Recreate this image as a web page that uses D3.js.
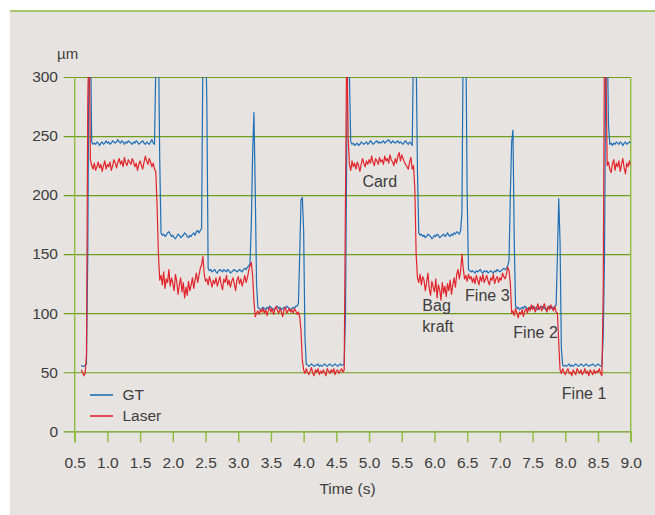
<!DOCTYPE html>
<html>
<head>
<meta charset="utf-8">
<script src="https://cdn.jsdelivr.net/npm/d3@7"></script>
<style>
  html, body { margin: 0; padding: 0; background: #ffffff; }
  svg { display: block; }
  text { font-family: "Liberation Sans", Arial, sans-serif; fill: #3d3d3d; }
</style>
</head>
<body>
<svg id="chart" width="655" height="515"></svg>
<script>
// ---- data (sampled every 0.02 s starting at 0.60 s) ----
const startTime = 0.60;
const sampleStep = 0.02;

const gtValues = [
  56,55,55,56,57,150,340,340,245,243,
  244,243,245,244,242,244,245,243,244,246,
  244,245,243,244,246,245,244,245,247,245,
  244,246,245,243,245,244,246,245,244,243,
  245,244,246,245,243,244,245,246,244,243,
  245,244,243,245,247,244,243,310,340,335,
  230,168,166,167,165,166,168,169,167,165,
  166,164,163,165,167,166,164,165,166,168,
  167,165,164,166,165,167,168,166,169,170,
  168,170,172,320,340,340,280,138,136,137,
  135,136,137,135,134,136,137,136,135,137,
  136,135,137,136,134,135,136,137,136,135,
  136,137,136,135,137,138,137,139,140,142,
  175,235,270,205,125,105,104,103,104,105,
  104,103,105,104,106,105,104,103,104,105,
  106,104,105,103,104,105,104,106,105,104,
  103,104,105,104,106,106,108,150,196,198,
  170,80,57,56,55,56,57,56,55,56,
  56,57,55,56,55,56,57,56,55,56,
  57,56,55,56,57,56,55,56,57,56,
  56,57,100,250,340,300,245,243,244,242,
  243,244,242,243,245,244,243,244,245,243,
  244,246,245,243,244,245,246,244,245,244,
  245,246,244,245,246,247,245,244,246,245,
  244,245,246,244,245,244,243,245,246,244,
  243,245,244,242,330,340,320,220,168,166,
  167,165,166,164,165,167,166,165,163,164,
  166,165,167,166,164,165,166,167,165,166,
  168,166,165,167,166,168,167,169,168,167,
  170,185,340,340,330,200,137,136,135,136,
  135,134,136,135,136,137,135,134,136,135,
  136,134,135,136,135,134,136,135,137,136,
  135,136,137,138,137,138,140,145,200,245,
  255,160,106,104,105,103,104,105,104,106,
  105,104,103,105,104,106,105,104,105,103,
  104,105,106,104,105,103,104,105,106,104,
  105,104,106,107,150,197,160,70,56,55,
  56,55,56,57,55,56,55,56,57,56,
  55,56,57,56,55,56,57,56,55,56,
  56,57,56,55,56,57,56,55,56,80,
  150,330,340,260,243,244,242,244,243,245,
  244,243,245,244,242,244,245,243,244,245,
  244
];

const laserValues = [
  52,50,47,49,65,280,340,230,225,222,
  227,221,224,228,223,226,220,225,229,222,
  226,224,228,221,225,230,227,223,228,231,
  226,229,224,232,227,225,230,228,226,231,
  228,224,227,221,226,229,225,222,228,233,
  229,226,231,228,224,227,222,220,190,150,
  128,132,124,135,121,129,126,137,123,130,
  125,119,133,127,116,124,130,118,126,113,
  122,115,127,119,124,130,121,128,134,126,
  132,138,141,148,133,127,129,124,131,127,
  122,128,125,130,123,127,131,124,120,129,
  126,132,124,128,122,127,130,125,119,128,
  131,125,129,123,127,132,126,130,136,140,
  143,132,110,97,100,102,99,103,101,104,
  100,103,98,102,105,101,104,99,103,106,
  102,100,104,101,97,103,105,100,102,104,
  101,103,100,104,102,99,101,97,85,60,
  52,49,53,50,48,51,54,49,47,52,
  50,53,48,51,49,52,50,47,53,51,
  49,52,50,53,48,51,52,49,51,53,
  50,52,200,340,250,226,221,229,224,227,
  222,228,225,220,226,231,227,224,229,226,
  230,227,233,228,225,231,229,226,232,228,
  230,226,233,229,231,227,234,230,228,225,
  231,227,233,236,229,234,231,228,226,224,
  222,228,232,222,225,205,150,130,126,133,
  124,131,128,119,126,134,121,115,127,122,
  118,129,113,124,120,111,126,117,123,114,
  125,119,128,116,124,130,122,133,137,129,
  136,150,138,129,132,127,133,129,131,126,
  130,125,132,128,124,131,127,133,126,129,
  132,127,124,130,128,133,125,129,131,126,
  130,128,134,131,129,133,139,136,125,100,
  102,98,104,100,96,101,99,103,97,102,
  104,100,105,102,107,103,106,101,104,108,
  103,106,102,105,108,104,101,106,103,107,
  104,102,106,101,100,75,52,49,53,50,
  48,51,53,49,50,47,52,50,48,53,
  51,49,52,48,50,53,49,51,47,52,
  50,48,52,49,51,50,53,49,47,120,
  340,320,225,228,222,219,226,230,221,227,
  224,229,220,226,231,223,218,227,224,229,
  225
];

const xTickValues = [0.5,1.0,1.5,2.0,2.5,3.0,3.5,4.0,4.5,5.0,5.5,6.0,6.5,7.0,7.5,8.0,8.5,9.0];
const yTickValues = [0,50,100,150,200,250,300];
const seriesNames = ["GT", "Laser"];
const annotationTexts = ["Card", "Bag", "kraft", "Fine 3", "Fine 2", "Fine 1"];
const annotationTimes = [4.898, 5.815, 5.815, 6.468, 7.206, 7.947];
const annotationValues = [207, 102, 84.3, 110.6, 78.7, 27.1];

// ---- drawing ----
const svg = d3.select("#chart");
const W = 655, H = 515;
const plotLeft = 74.7, plotRight = 630.7, plotTop = 77, plotBottom = 431.3;

const gridColor = "#6f9d1c";
const axisColor = "#8dbb3c";
const blue = "#1f6fb6";
const red = "#e2252c";
const fontSize = "15.5px";

svg.append("rect").attr("x", 0).attr("y", 0).attr("width", W).attr("height", H).attr("fill", "#ffffff");
svg.append("rect").attr("x", 10).attr("y", 11).attr("width", W - 10).attr("height", H - 11).attr("fill", "#e6e3e0");
svg.append("line").attr("x1", 10).attr("x2", W).attr("y1", 11).attr("y2", 11)
  .attr("stroke", "#8cb83e").attr("stroke-width", 1.5);

const x = d3.scaleLinear().domain([0.5, 9.0]).range([plotLeft, plotRight]);
const y = d3.scaleLinear().domain([0, 300]).range([plotBottom, plotTop]);

// horizontal gridlines via axis
const yg = svg.append("g").attr("transform", `translate(${plotRight},0)`)
  .call(d3.axisLeft(y).tickValues(yTickValues).tickSize(plotRight - plotLeft + 11).tickFormat(""));
yg.select(".domain").remove();
yg.selectAll(".tick line").attr("stroke", gridColor).attr("stroke-width", 1.2);

yTickValues.forEach(v => {
  svg.append("text").attr("x", 58).attr("y", y(v) + 5.3)
    .attr("text-anchor", "end").style("font-size", fontSize).text(v);
});

// left axis and right border
svg.append("line").attr("x1", plotLeft).attr("x2", plotLeft).attr("y1", plotTop).attr("y2", plotBottom + 11)
  .attr("stroke", axisColor).attr("stroke-width", 1.4);
svg.append("line").attr("x1", plotRight).attr("x2", plotRight).attr("y1", plotTop).attr("y2", plotBottom + 11)
  .attr("stroke", axisColor).attr("stroke-width", 1.4);

// bottom ticks + labels via axis
const xg = svg.append("g").attr("transform", `translate(0,${plotBottom})`)
  .call(d3.axisBottom(x).tickValues(xTickValues).tickSize(11).tickFormat(d3.format(".1f")));
xg.select(".domain").remove();
xg.selectAll(".tick line").attr("stroke", axisColor).attr("stroke-width", 1.4);
xg.selectAll(".tick text").style("font-size", fontSize).style("font-family", '"Liberation Sans", Arial, sans-serif')
  .attr("fill", "#3d3d3d").attr("y", 36.4).attr("dy", 0);

// unit and axis title
svg.append("text").attr("x", 57).attr("y", 59).style("font-size", "15px").text("µm");
svg.append("text").attr("x", 347.5).attr("y", 493.5).attr("text-anchor", "middle").style("font-size", fontSize).text("Time (s)");

// clip path for data
svg.append("clipPath").attr("id", "plotclip").append("rect")
  .attr("x", plotLeft).attr("y", plotTop).attr("width", plotRight - plotLeft).attr("height", plotBottom - plotTop);

const line = d3.line()
  .x((d, i) => x(startTime + i * sampleStep))
  .y(d => y(d));

const dataG = svg.append("g").attr("clip-path", "url(#plotclip)");
dataG.append("path").datum(gtValues).attr("d", line)
  .attr("fill", "none").attr("stroke", blue).attr("stroke-width", 1.2).attr("stroke-linejoin", "round");
dataG.append("path").datum(laserValues).attr("d", line)
  .attr("fill", "none").attr("stroke", red).attr("stroke-width", 1.2).attr("stroke-linejoin", "round");

// legend
const legendColors = [blue, red];
const legendY = [395, 416];
seriesNames.forEach((name, i) => {
  svg.append("line").attr("x1", 90).attr("x2", 113).attr("y1", legendY[i]).attr("y2", legendY[i])
    .attr("stroke", legendColors[i]).attr("stroke-width", 1.6);
  svg.append("text").attr("x", 122.5).attr("y", legendY[i] + 5.3).style("font-size", fontSize).text(name);
});

// annotations
annotationTexts.forEach((t, i) => {
  svg.append("text").attr("x", x(annotationTimes[i])).attr("y", y(annotationValues[i]))
    .style("font-size", "16px").text(t);
});
</script>
</body>
</html>
